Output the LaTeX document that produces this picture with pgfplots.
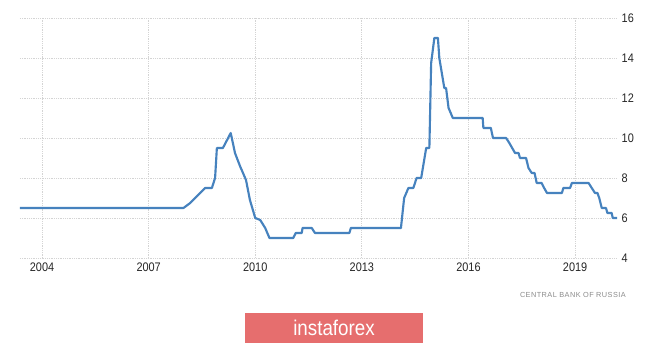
\documentclass[border=0pt]{standalone}
\usepackage{pgfplots}
\pgfplotsset{compat=1.18}
\usepackage{fontspec}
\setmainfont{Liberation Sans}
\newfontfamily\tickfont{Liberation Sans}[FakeStretch=0.88]
\newfontfamily\srcfont{Liberation Sans}[LetterSpace=6]
\definecolor{lineblue}{RGB}{70,130,190}
\definecolor{boxred}{RGB}{230,110,110}
\definecolor{gridgray}{RGB}{212,212,212}
\pgfplotstableread{
year rate
2003.38 6.5
2007.98 6.5
2008.17 6.75
2008.31 7.0
2008.45 7.25
2008.59 7.5
2008.78 7.5
2008.87 8.0
2008.92 9.5
2009.09 9.5
2009.31 10.25
2009.43 9.25
2009.57 8.6
2009.74 7.9
2009.85 6.9
2010.00 6.0
2010.14 5.9
2010.28 5.5
2010.40 5.0
2011.07 5.0
2011.14 5.25
2011.31 5.25
2011.33 5.5
2011.59 5.5
2011.68 5.25
2012.65 5.25
2012.69 5.5
2014.10 5.5
2014.19 7.0
2014.31 7.5
2014.45 7.5
2014.54 8.0
2014.67 8.0
2014.81 9.5
2014.90 9.5
2014.95 13.75
2015.04 15.0
2015.14 15.0
2015.18 14.0
2015.32 12.5
2015.37 12.5
2015.44 11.5
2015.56 11.0
2016.40 11.0
2016.42 10.5
2016.63 10.5
2016.69 10.0
2017.06 10.0
2017.15 9.75
2017.31 9.25
2017.41 9.25
2017.45 9.0
2017.62 9.0
2017.69 8.5
2017.78 8.25
2017.86 8.25
2017.92 7.75
2018.06 7.75
2018.13 7.5
2018.21 7.25
2018.63 7.25
2018.67 7.5
2018.86 7.5
2018.91 7.75
2019.38 7.75
2019.47 7.5
2019.56 7.25
2019.63 7.25
2019.68 7.0
2019.75 6.5
2019.87 6.5
2019.91 6.25
2020.03 6.25
2020.06 6.0
2020.18 6.0
}\ratedata
\begin{document}
\begin{tikzpicture}
\path[use as bounding box, fill=white] (0pt,0pt) rectangle (498.75pt,258.75pt);
\begin{axis}[
  at={(15pt,65.25pt)}, anchor=south west,
  scale only axis, width=447.75pt, height=180pt,
  xmin=2003.38, xmax=2020.18, ymin=4, ymax=16,
  xtick={2004,2007,2010,2013,2016,2019},
  ytick={4,6,8,10,12,14,16},
  yticklabel pos=right,
  axis line style={draw=none},
  major tick length=0pt,
  grid=major,
  grid style={gridgray, line width=0.6pt, dash pattern=on 0.6pt off 0.75pt},
  /pgf/number format/assume math mode=true,
  /pgf/number format/1000 sep={},
  ticklabel style={font=\tickfont\fontsize{9.3}{10}\selectfont, text=black!85},
  clip=false,
]
\addplot[lineblue, line width=1.6pt, line join=round] table[x=year, y=rate] {\ratedata};
\end{axis}
\node[anchor=east, text=black!45, font=\srcfont\fontsize{5.5}{6}\selectfont, inner sep=0pt] at (469.5pt,37.5pt) {CENTRAL BANK OF RUSSIA};
\node[fill=boxred, minimum width=133.5pt, minimum height=22.5pt, text=white, inner sep=0pt, font=\tickfont\fontsize{16}{18}\selectfont] at (250.5pt,12.75pt) {instaforex};
\end{tikzpicture}
\end{document}
